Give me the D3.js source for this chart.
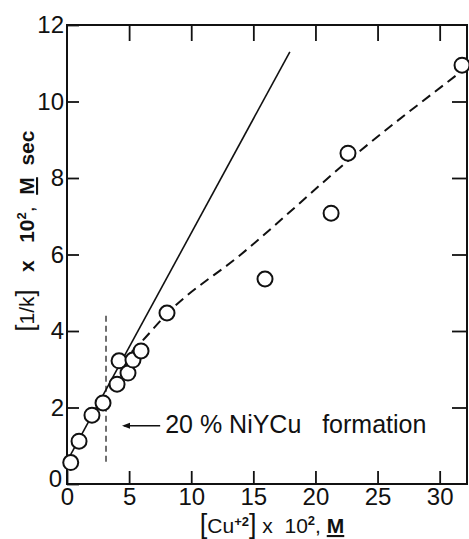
<!DOCTYPE html>
<html>
<head>
<meta charset="utf-8">
<script src="https://cdn.jsdelivr.net/npm/d3@7"></script>
<style>
  html, body { margin: 0; padding: 0; background: #fff; }
  svg { display: block; font-family: "Liberation Sans", Arial, sans-serif; }
  text { fill: #111; white-space: pre; }
</style>
</head>
<body>
<div id="chart"></div>
<script>
// measured points, [Cu+2] x 10^2 (M) vs [1/k] x 10^2 (M sec)
const cuConc = [0.3, 0.97, 2.01, 2.9, 4.03, 4.19, 4.91, 5.31, 5.96, 8.05, 15.94, 21.26, 22.62, 31.8];
const invK   = [0.56, 1.12, 1.8, 2.12, 2.61, 3.22, 2.9, 3.24, 3.48, 4.47, 5.36, 7.08, 8.65, 10.95];

// drawn curves
const solidX  = [0, 17.94];
const solidY  = [0.59, 11.3];
const dashedX = [4.3, 6.0, 8.05, 14, 23, 31.8];
const dashedY = [3.16, 3.72, 4.45, 6.0, 8.55, 10.8];

// 20% formation marker
const markX = [3.14, 3.14];
const markY = [0.58, 4.47];

const xTicks = [0, 5, 10, 15, 20, 25, 30];
const yTicks = [0, 2, 4, 6, 8, 10, 12];

const W = 469, H = 539;
const margin = {top: 25, right: 2, bottom: 55, left: 67};

const svg = d3.select("#chart").append("svg")
  .attr("width", W).attr("height", H);

const x = d3.scaleLinear().domain([0, 32.2]).range([margin.left, W - margin.right]);
const y = d3.scaleLinear().domain([0, 12]).range([H - margin.bottom, margin.top]);

// frame
svg.append("rect")
  .attr("x", x(0)).attr("y", y(12))
  .attr("width", x(32.2) - x(0)).attr("height", y(0) - y(12))
  .attr("fill", "none").attr("stroke", "#111").attr("stroke-width", 2);

// axes with inward ticks
const gx = svg.append("g").attr("transform", `translate(0,${y(0)})`)
  .call(d3.axisBottom(x).tickValues(xTicks).tickSizeInner(-13).tickSizeOuter(0).tickPadding(4));
const gy = svg.append("g").attr("transform", `translate(${x(0)},0)`)
  .call(d3.axisLeft(y).tickValues(yTicks).tickSizeInner(-12).tickSizeOuter(0).tickPadding(3));
const gTop = svg.append("g").attr("transform", `translate(0,${y(12)})`)
  .call(d3.axisTop(x).tickValues(xTicks.slice(1)).tickSizeInner(-16).tickSizeOuter(0).tickFormat(""));
const gRight = svg.append("g").attr("transform", `translate(${x(32.2)},0)`)
  .call(d3.axisRight(y).tickValues(yTicks.slice(1, -1)).tickSizeInner(-15).tickSizeOuter(0).tickFormat(""));

[gx, gy, gTop, gRight].forEach(g => {
  g.select(".domain").remove();
  g.selectAll(".tick line").attr("stroke", "#111").attr("stroke-width", 1.8);
  g.selectAll(".tick text").attr("fill", "#111")
    .style("font-family", "'Liberation Sans', Arial, sans-serif")
    .style("font-size", "24px");
});
gy.selectAll(".tick text").filter(d => d === 0).attr("dy", "0.12em").attr("dx", "-2");

// fitted lines
const line = d3.line().x(d => x(d[0])).y(d => y(d[1]));
svg.append("path")
  .attr("d", line(d3.zip(solidX, solidY)))
  .attr("fill", "none").attr("stroke", "#111").attr("stroke-width", 1.6);

svg.append("path")
  .attr("d", line.curve(d3.curveMonotoneX)(d3.zip(dashedX, dashedY)))
  .attr("fill", "none").attr("stroke", "#111").attr("stroke-width", 2)
  .attr("stroke-dasharray", "10,6");

svg.append("path")
  .attr("d", d3.line().x(d => x(d[0])).y(d => y(d[1]))(d3.zip(markX, markY)))
  .attr("fill", "none").attr("stroke", "#111").attr("stroke-width", 1.2)
  .attr("stroke-dasharray", "6,4");

// points
svg.append("g").selectAll("circle")
  .data(d3.zip(cuConc, invK))
  .join("circle")
  .attr("cx", d => x(d[0])).attr("cy", d => y(d[1]))
  .attr("r", 7.5)
  .attr("fill", "#fff").attr("stroke", "#111").attr("stroke-width", 2);

// annotation
const arrY = y(1.52);
const arrX1 = x(3.14) + 16, arrX2 = x(7.5);
svg.append("line")
  .attr("x1", arrX1 + 2).attr("x2", arrX2).attr("y1", arrY).attr("y2", arrY)
  .attr("stroke", "#111").attr("stroke-width", 1.5);
svg.append("path")
  .attr("d", `M${arrX1},${arrY} l8,-3 l0,6 z`)
  .attr("fill", "#111");
svg.append("text")
  .attr("x", arrX2 + 5).attr("y", y(1.33))
  .style("font-size", "25px")
  .text("20 % NiYCu   formation");

// x axis title
const xt = svg.append("text")
  .attr("x", 272).attr("y", 533)
  .attr("text-anchor", "middle")
  .style("font-size", "21px");
xt.append("tspan").style("font-size", "27px").text("[");
xt.append("tspan").text("Cu");
xt.append("tspan").attr("dy", -7).style("font-size", "13px").style("font-weight", "bold").text("+2");
xt.append("tspan").attr("dy", 7).style("font-size", "27px").text("]");
xt.append("tspan").text(" x  10");
xt.append("tspan").attr("dy", -8).style("font-size", "13px").style("font-weight", "bold").text("2");
xt.append("tspan").attr("dy", 8).text(", ");
xt.append("tspan").style("font-weight", "bold").style("text-decoration", "underline").text("M");

// y axis title
const yt = svg.append("text")
  .attr("transform", `translate(34,231) rotate(-90)`)
  .attr("text-anchor", "middle")
  .style("font-size", "21px");
yt.append("tspan").style("font-size", "25px").text("[");
yt.append("tspan").text("1/k");
yt.append("tspan").style("font-size", "25px").text("]");
yt.append("tspan").style("font-weight", "bold").text("   x   10");
yt.append("tspan").attr("dy", -8).style("font-size", "13px").style("font-weight", "bold").text("2");
yt.append("tspan").attr("dy", 8).text(",  ");
yt.append("tspan").style("font-weight", "bold").style("text-decoration", "underline").text("M");
yt.append("tspan").style("font-weight", "bold").text("  sec");
</script>
</body>
</html>
